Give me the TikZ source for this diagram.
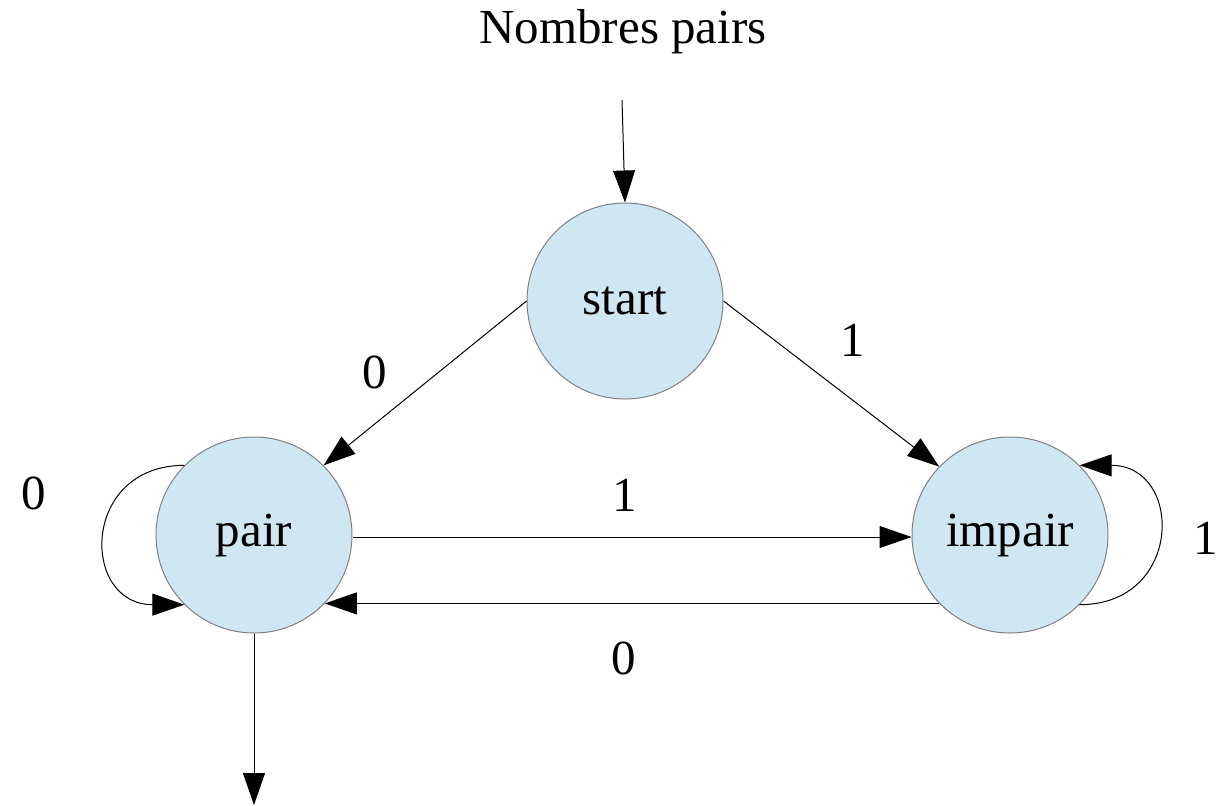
\documentclass[tikz,border=0pt]{standalone}
\usepackage{fontspec}
\setmainfont{Liberation Serif}
\usetikzlibrary{arrows.meta}
\definecolor{statefill}{RGB}{207,230,243}
\definecolor{stateline}{RGB}{128,128,128}
\begin{document}
\begin{tikzpicture}[x=0.5pt,y=-0.5pt,
  state/.style={circle,draw=stateline,fill=statefill,line width=0.5pt,minimum size=98pt,inner sep=0pt,font=\fontsize{24.5}{28}\selectfont},
  lbl/.style={inner sep=0pt,font=\fontsize{24.5}{28}\selectfont},
  edge/.style={draw=black,line width=0.5pt,-{Triangle[length=16pt,width=11pt]}}]
\useasboundingbox (0,0) rectangle (1216,805);
\node[state] (start) at (625,301) {start};
\node[state] (pair) at (254,535) {pair};
\node[state] (impair) at (1010,535) {impair};
\node[lbl] (title) at (623,32) {Nombres pairs};
\coordinate (in) at (622,100);
\coordinate (out) at (254,805);
\draw[edge] (in) -- (start.north);
\draw[edge] (start.180) -- (pair.45);
\draw[edge] (start.0) -- (impair.136);
\draw[edge] (pair.0 |- 0,537) -- (impair.180 |- 0,537);
\draw[edge] (impair.224) -- (pair.-44);
\draw[edge] (pair.south) -- (out);
\draw[edge] (pair.135) .. controls +(-104,0) and +(-104,0) .. (pair.225);
\draw[edge] (impair.-45) .. controls +(104,0) and +(104,0) .. (impair.45);
\node[lbl] (l1) at (375,372) {0};
\node[lbl] (l2) at (853,340) {1};
\node[lbl] (l3) at (34,493) {0};
\node[lbl] (l4) at (625,495) {1};
\node[lbl] (l5) at (1206,538) {1};
\node[lbl] (l6) at (624,658) {0};
\end{tikzpicture}
\end{document}
